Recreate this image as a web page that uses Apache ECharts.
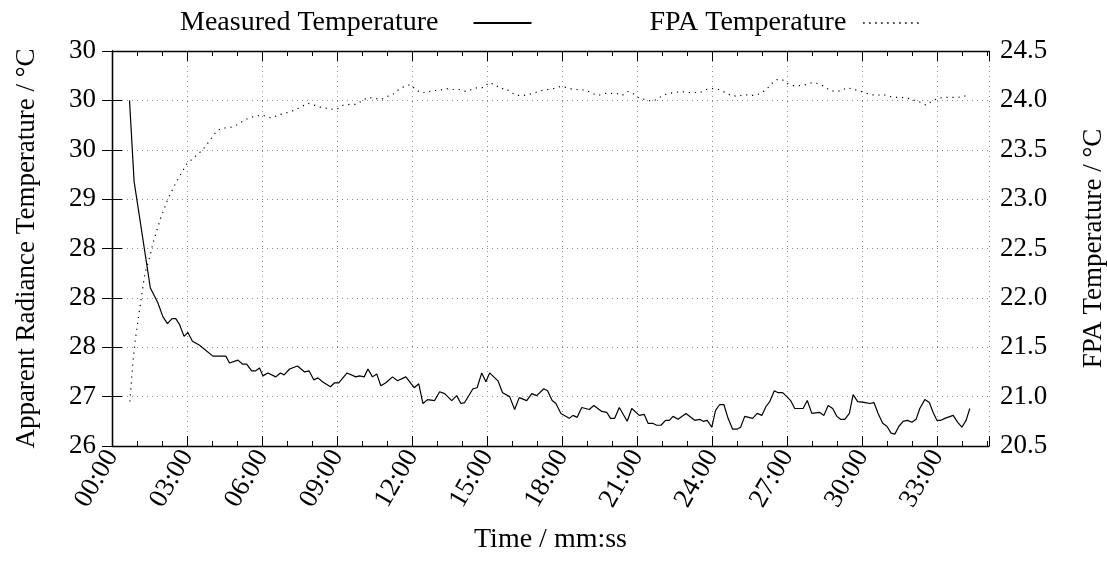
<!DOCTYPE html>
<html>
<head>
<meta charset="utf-8">
<script src="https://cdn.jsdelivr.net/npm/echarts@6/dist/echarts.min.js"></script>
<style>
html,body{margin:0;padding:0;background:#fff;}
#chart{width:1107px;height:565px;}
</style>
</head>
<body>
<div id="chart"></div>
<script>
// ---- data (time in seconds) ----
const leftTickLabels = ["26","27","28","28","28","29","30","30","30"];

const measuredTime = [42,53,92,110,122,133,144,153,162,173,182,193,210,242,273,282,302,313,323,335,344,354,362,374,393,404,413,426,445,462,473,484,494,505,524,534,544,564,585,594,605,614,625,635,645,657,673,685,705,725,736,746,757,774,786,798,815,827,837,846,866,876,887,897,906,926,937,954,966,977,995,1007,1019,1036,1045,1056,1065,1077,1097,1106,1116,1127,1145,1156,1175,1187,1196,1206,1217,1236,1247,1265,1277,1286,1297,1307,1317,1328,1337,1346,1358,1377,1398,1410,1418,1428,1439,1448,1458,1468,1478,1489,1499,1508,1518,1537,1548,1559,1569,1578,1589,1598,1609,1619,1628,1638,1658,1668,1679,1698,1708,1718,1729,1739,1748,1758,1769,1778,1789,1808,1818,1828,1838,1849,1859,1869,1878,1888,1898,1908,1919,1929,1938,1950,1961,1970,1979,1989,1998,2018,2029,2039,2049,2058];
const measuredTemp = [29.50,28.68,27.60,27.45,27.31,27.24,27.29,27.29,27.23,27.11,27.15,27.06,27.02,26.91,26.91,26.84,26.87,26.83,26.83,26.76,26.76,26.79,26.71,26.74,26.70,26.74,26.72,26.78,26.81,26.75,26.76,26.67,26.69,26.65,26.60,26.64,26.64,26.74,26.70,26.71,26.70,26.78,26.70,26.73,26.61,26.64,26.70,26.66,26.70,26.59,26.63,26.43,26.47,26.46,26.55,26.53,26.46,26.51,26.43,26.44,26.58,26.59,26.74,26.65,26.74,26.66,26.54,26.50,26.37,26.49,26.46,26.53,26.51,26.58,26.56,26.46,26.43,26.33,26.28,26.31,26.29,26.39,26.37,26.41,26.35,26.34,26.28,26.28,26.39,26.25,26.38,26.31,26.32,26.23,26.23,26.21,26.21,26.26,26.26,26.30,26.27,26.33,26.26,26.27,26.25,26.26,26.19,26.36,26.42,26.42,26.28,26.17,26.17,26.19,26.30,26.28,26.33,26.31,26.40,26.45,26.56,26.54,26.54,26.50,26.46,26.38,26.38,26.46,26.33,26.34,26.31,26.41,26.38,26.30,26.27,26.27,26.33,26.52,26.45,26.44,26.43,26.44,26.33,26.23,26.20,26.13,26.12,26.20,26.25,26.26,26.24,26.27,26.38,26.47,26.44,26.34,26.26,26.26,26.28,26.31,26.24,26.19,26.26,26.38];

const fpaTime = [43,50,57,64,72,79,91,98,117,134,149,163,180,194,215,227,244,254,271,287,299,314,328,343,359,369,383,398,415,431,443,456,470,487,501,515,529,540,554,571,587,601,614,631,647,660,674,688,701,716,728,740,755,769,785,800,817,833,849,863,877,892,904,919,931,945,957,971,986,1001,1016,1031,1046,1060,1076,1092,1106,1123,1139,1152,1166,1183,1197,1211,1224,1237,1250,1265,1279,1295,1307,1321,1334,1351,1365,1381,1396,1411,1425,1440,1456,1471,1485,1501,1516,1531,1545,1560,1572,1583,1595,1608,1620,1634,1651,1665,1680,1694,1709,1723,1737,1751,1764,1778,1790,1805,1819,1835,1849,1864,1879,1895,1910,1925,1940,1953,1967,1980,1996,2012,2028,2044,2057];
const fpaTemp = [20.95,21.35,21.61,21.82,22.05,22.25,22.42,22.55,22.81,23.00,23.13,23.24,23.36,23.41,23.49,23.55,23.65,23.70,23.72,23.73,23.75,23.79,23.82,23.84,23.85,23.84,23.82,23.85,23.87,23.89,23.91,23.94,23.97,23.95,23.93,23.92,23.91,23.91,23.95,23.96,23.96,24.00,24.03,24.02,24.01,24.04,24.06,24.11,24.14,24.16,24.11,24.08,24.08,24.10,24.10,24.12,24.11,24.11,24.09,24.11,24.13,24.13,24.18,24.16,24.12,24.12,24.08,24.05,24.05,24.06,24.08,24.10,24.11,24.12,24.14,24.13,24.11,24.11,24.10,24.07,24.05,24.07,24.07,24.07,24.05,24.09,24.07,24.02,24.01,23.99,24.01,24.05,24.07,24.08,24.09,24.08,24.08,24.08,24.11,24.12,24.11,24.08,24.05,24.04,24.06,24.05,24.05,24.08,24.12,24.17,24.21,24.21,24.17,24.15,24.15,24.16,24.18,24.17,24.14,24.10,24.09,24.10,24.13,24.11,24.10,24.08,24.06,24.05,24.06,24.04,24.03,24.03,24.02,24.00,23.98,23.95,23.99,24.02,24.03,24.03,24.03,24.04,24.07];

// ---- chart ----
const FONT = 'Liberation Serif';
const FS = 27;
const fmtTime = v => {
  const m = Math.floor(v / 60), s = Math.round(v - m * 60);
  return String(m).padStart(2, '0') + ':' + String(s).padStart(2, '0');
};
const gridLine = { show: true, lineStyle: { color: '#8c8c8c', width: 1, type: [1, 4] } };
const axisLine = { show: true, lineStyle: { color: '#000', width: 1.3 } };
const tickStyle = { color: '#000', width: 1 };
const majorTick = { show: true, inside: false, length: -10, lineStyle: tickStyle };
const minorTk = { show: true, splitNumber: 3, length: -5, lineStyle: tickStyle };

const chart = echarts.init(document.getElementById('chart'), null, { renderer: 'canvas' });
chart.setOption({
  animation: false,
  backgroundColor: '#fff',
  textStyle: { fontFamily: FONT, color: '#000' },
  grid: { left: 112, right: 118, top: 51, bottom: 119, containLabel: false, outerBoundsMode: 'none' },
  legend: {
    top: 4, left: 175, align: 'right', itemGap: 117, itemWidth: 58, itemHeight: 14,
    itemStyle: { opacity: 0 },
    textStyle: { fontFamily: FONT, fontSize: 28, color: '#000' },
    data: [
      { name: 'Measured Temperature', textStyle: { padding: [0, 30, 0, 0] } },
      { name: 'FPA Temperature', textStyle: { padding: [0, 12, 0, 0] } }
    ]
  },
  xAxis: [{
    type: 'value', min: 0, max: 2104, interval: 180, position: 'bottom',
    axisLine: axisLine, axisTick: majorTick, minorTick: minorTk,
    axisLabel: { rotate: 60, formatter: fmtTime, fontFamily: FONT, fontSize: FS, color: '#000', margin: 6, showMaxLabel: false },
    splitLine: gridLine,
    name: 'Time / mm:ss', nameLocation: 'middle', nameGap: 80,
    nameTextStyle: { fontFamily: FONT, fontSize: FS + 1, color: '#000' }
  }, {
    type: 'value', min: 0, max: 2104, interval: 180, position: 'top',
    axisLine: axisLine, axisTick: majorTick, minorTick: minorTk,
    axisLabel: { show: false }, splitLine: { show: false }
  }],
  yAxis: [{
    type: 'value', min: 26, max: 30, interval: 0.5, position: 'left',
    axisLine: axisLine, axisTick: majorTick,
    axisLabel: { formatter: v => leftTickLabels[Math.round((v - 26) / 0.5)], fontFamily: FONT, fontSize: FS, color: '#000', margin: 16 },
    splitLine: gridLine,
    name: 'Apparent Radiance Temperature / °C', nameLocation: 'middle', nameGap: 72, nameRotate: 90,
    nameTextStyle: { fontFamily: FONT, fontSize: FS, color: '#000' }
  }, {
    type: 'value', min: 20.5, max: 24.5, interval: 0.5, position: 'right',
    axisLine: axisLine, axisTick: majorTick,
    axisLabel: { formatter: v => v.toFixed(1), fontFamily: FONT, fontSize: FS, color: '#000', margin: 11 },
    splitLine: { show: false },
    name: 'FPA Temperature / °C', nameLocation: 'middle', nameGap: 91, nameRotate: 90,
    nameTextStyle: { fontFamily: FONT, fontSize: FS, color: '#000' }
  }],
  series: [{
    name: 'Measured Temperature', type: 'line', xAxisIndex: 0, yAxisIndex: 0,
    symbol: 'none', showSymbol: false,
    lineStyle: { color: '#000', width: 1.2 }, itemStyle: { color: '#000' },
    data: measuredTime.map((t, i) => [t, measuredTemp[i]])
  }, {
    name: 'FPA Temperature', type: 'line', xAxisIndex: 0, yAxisIndex: 1,
    symbol: 'none', showSymbol: false,
    lineStyle: { color: '#000', width: 1.2, type: [1.2, 4.8] }, itemStyle: { color: '#000' },
    data: fpaTime.map((t, i) => [t, fpaTemp[i]])
  }]
});
</script>
</body>
</html>
